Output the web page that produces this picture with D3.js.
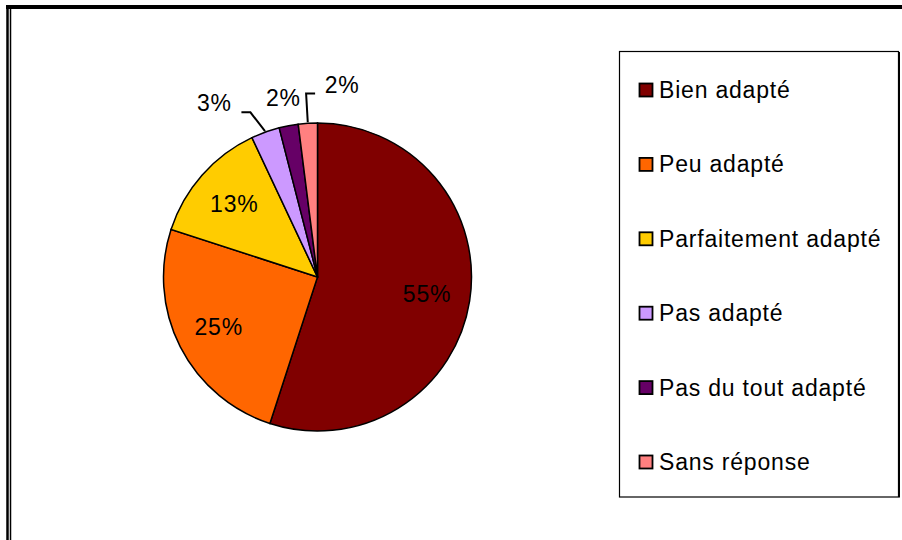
<!DOCTYPE html>
<html>
<head>
<meta charset="utf-8">
<script src="https://cdn.jsdelivr.net/npm/d3@7"></script>
<style>
  body { margin: 0; background: #fff; }
  svg text { font-family: "Liberation Sans", Arial, sans-serif; font-size: 23px; letter-spacing: 0.8px; fill: #000; }
</style>
</head>
<body>
<script>
// données
var categories = ["Bien adapté", "Peu adapté", "Parfaitement adapté", "Pas adapté", "Pas du tout adapté", "Sans réponse"];
var values = [55, 25, 13, 3, 2, 2];
var colors = ["#800000", "#FF6600", "#FFCC00", "#CC99FF", "#660066", "#FF8080"];

var w = 902, h = 540;
var cx = 317.5, cy = 277, r = 154;

var svg = d3.select("body")
  .append("svg")
  .attr("width", w)
  .attr("height", h);

// cadre du graphique (trait épais en haut, double trait à gauche)
svg.append("rect").attr("x", 6).attr("y", 5).attr("width", w - 6).attr("height", 4).attr("fill", "#000");
svg.append("line").attr("x1", 7.5).attr("x2", 7.5).attr("y1", 5).attr("y2", h).attr("stroke", "#000").attr("stroke-width", 2.5);
svg.append("line").attr("x1", 10.5).attr("x2", 10.5).attr("y1", 9).attr("y2", h).attr("stroke", "#000").attr("stroke-width", 1.5);

var color = d3.scaleOrdinal().domain(categories).range(colors);

var pie = d3.pie().sort(null).value(function(d) { return d.value; });
var data = categories.map(function(c, i) { return { name: c, value: values[i] }; });
var arcs = pie(data);

var arc = d3.arc().innerRadius(0).outerRadius(r);
var labelArc = d3.arc().innerRadius(r * 0.72).outerRadius(r * 0.72);

var g = svg.append("g").attr("transform", "translate(" + cx + "," + cy + ")");

g.selectAll("path")
  .data(arcs)
  .enter()
  .append("path")
  .attr("d", arc)
  .attr("fill", function(d) { return color(d.data.name); })
  .attr("stroke", "#000")
  .attr("stroke-width", 1.5);

var total = d3.sum(values);
var pct = function(d) { return Math.round(d.value / total * 100) + "%"; };

// grandes parts : étiquette dans la part
var big = arcs.filter(function(d) { return d.data.value >= 5; });
g.selectAll("text.big")
  .data(big)
  .enter()
  .append("text")
  .attr("class", "big")
  .attr("text-anchor", "middle")
  .attr("dy", "0.35em")
  .attr("transform", function(d) { return "translate(" + labelArc.centroid(d) + ")"; })
  .text(function(d) { return pct(d.data); });

// petites parts : étiquettes à l'extérieur, écartées, avec traits de rappel
var small = arcs.filter(function(d) { return d.data.value < 5; });
var m = (small.length - 1) / 2;
small.forEach(function(d, i) {
  var mid = (d.startAngle + d.endAngle) / 2;
  var k = i - m;
  var a = mid + k * 0.19;
  var rr = r + 28 + Math.abs(k) * (k < 0 ? 20 : 12);
  d.lx = rr * Math.sin(a);
  d.ly = -rr * Math.cos(a);
  d.mid = mid;
  d.side = k < 0 ? 1 : -1;
  d.lead = Math.abs(k) >= 1;
});

g.selectAll("text.small")
  .data(small)
  .enter()
  .append("text")
  .attr("class", "small")
  .attr("text-anchor", "middle")
  .attr("dy", "0.35em")
  .attr("x", function(d) { return d.lx; })
  .attr("y", function(d) { return d.ly; })
  .text(function(d) { return pct(d.data); });

var hw = 19;
g.selectAll("polyline")
  .data(small.filter(function(d) { return d.lead; }))
  .enter()
  .append("polyline")
  .attr("fill", "none")
  .attr("stroke", "#000")
  .attr("stroke-width", 2)
  .attr("points", function(d) {
    var p0 = [(r + 1) * Math.sin(d.mid), -(r + 1) * Math.cos(d.mid)];
    var p1 = [d.lx + d.side * (hw + 17), d.ly + 9];
    var p2 = [d.lx + d.side * (hw + 8), d.ly + 9];
    return [p0, p1, p2].map(function(p) { return p.join(","); }).join(" ");
  });

// légende
var legend = svg.append("g");
legend.append("rect")
  .attr("x", 619.5).attr("y", 51.5)
  .attr("width", 279).attr("height", 445.5)
  .attr("fill", "#fff")
  .attr("stroke", "#000")
  .attr("stroke-width", 1.2);
legend.append("line")
  .attr("x1", 899.5).attr("x2", 899.5).attr("y1", 52).attr("y2", 497.5)
  .attr("stroke", "#000").attr("stroke-width", 1);

var ly = d3.scalePoint().domain(categories).range([90, 462]);

var items = legend.selectAll("g.item")
  .data(categories)
  .enter()
  .append("g")
  .attr("class", "item")
  .attr("transform", function(d) { return "translate(639," + ly(d) + ")"; });

items.append("rect")
  .attr("x", 0.5).attr("y", -6.5)
  .attr("width", 13).attr("height", 13)
  .attr("fill", function(d) { return color(d); })
  .attr("stroke", "#000")
  .attr("stroke-width", 1.8);

items.append("text")
  .attr("x", 20)
  .attr("dy", "0.35em")
  .text(function(d) { return d; });
</script>
</body>
</html>
